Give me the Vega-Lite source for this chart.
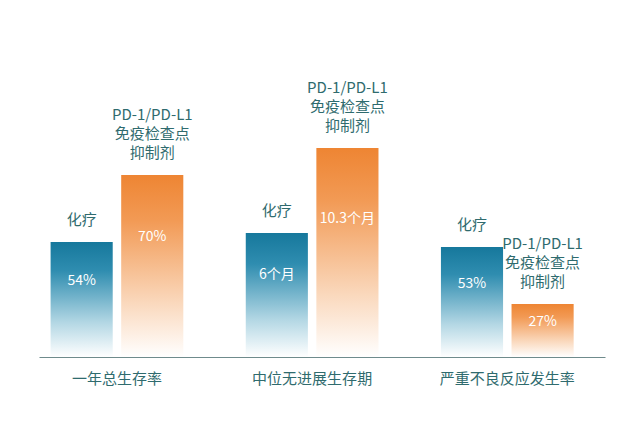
{
  "$schema": "https://vega.github.io/schema/vega-lite/v6.json",
  "autosize": "none",
  "width": 566,
  "height": 357,
  "padding": {"left": 39, "top": 0, "right": 35, "bottom": 64},
  "background": "#ffffff",
  "config": {"view": {"stroke": null}, "font": "Noto Sans CJK SC"},
  "data": {"values": [
    {"group": "一年总生存率", "series": "化疗", "h": 115, "label": "54%"},
    {"group": "一年总生存率", "series": "PD-1/PD-L1\n免疫检查点\n抑制剂", "h": 182, "label": "70%"},
    {"group": "中位无进展生存期", "series": "化疗", "h": 124, "label": "6个月"},
    {"group": "中位无进展生存期", "series": "PD-1/PD-L1\n免疫检查点\n抑制剂", "h": 209, "label": "10.3个月"},
    {"group": "严重不良反应发生率", "series": "化疗", "h": 110, "label": "53%"},
    {"group": "严重不良反应发生率", "series": "PD-1/PD-L1\n免疫检查点\n抑制剂", "h": 53, "label": "27%"}
  ]},
  "encoding": {
    "x": {"field": "group", "type": "nominal", "sort": null,
      "scale": {"paddingInner": 0.32, "paddingOuter": 0.11, "align": 0.27},
      "axis": {"title": null, "labelAngle": 0, "ticks": false, "labelFontSize": 15, "labelColor": "#2f6b6e", "labelPadding": 14, "domainColor": "#6f8b8c", "domainWidth": 1.2, "labelFont": "Noto Sans CJK SC"}},
    "xOffset": {"field": "series", "type": "nominal", "sort": null,
      "scale": {"domain": ["化疗", "PD-1/PD-L1\n免疫检查点\n抑制剂"], "paddingInner": 0.12}},
    "y": {"field": "h", "type": "quantitative", "scale": {"domain": [0, 357]}, "axis": null}
  },
  "layer": [
    {
      "transform": [{"filter": "datum.series === '化疗'"}],
      "mark": {"type": "bar", "fill": {"gradient": "linear", "x1": 0, "y1": 0, "x2": 0, "y2": 1,
        "stops": [{"offset": 0, "color": "#16789c"}, {"offset": 0.25, "color": "#2f8db0"}, {"offset": 0.7, "color": "#b3d7e4"}, {"offset": 1, "color": "#ffffff"}]}}
    },
    {
      "transform": [{"filter": "datum.series !== '化疗'"}],
      "mark": {"type": "bar", "fill": {"gradient": "linear", "x1": 0, "y1": 0, "x2": 0, "y2": 1,
        "stops": [{"offset": 0, "color": "#ee8533"}, {"offset": 0.25, "color": "#f29a55"}, {"offset": 0.7, "color": "#fad8bc"}, {"offset": 1, "color": "#ffffff"}]}}
    },
    {
      "transform": [{"calculate": "datum.h * 0.66", "as": "ly"}],
      "mark": {"type": "text", "color": "#ffffff", "fontSize": 14, "baseline": "middle", "align": "center"},
      "encoding": {"y": {"field": "ly", "type": "quantitative"}, "text": {"field": "label"}}
    },
    {
      "transform": [{"filter": "datum.series === '化疗'"}],
      "mark": {"type": "text", "color": "#2f6b6e", "fontSize": 15, "baseline": "bottom", "align": "center", "dy": -14},
      "encoding": {"text": {"field": "series"}}
    },
    {
      "transform": [{"filter": "datum.series !== '化疗'"}],
      "mark": {"type": "text", "color": "#2f6b6e", "fontSize": 15, "baseline": "bottom", "align": "center", "dy": -52, "lineBreak": "\n", "lineHeight": 19},
      "encoding": {"text": {"field": "series"}}
    }
  ]
}
